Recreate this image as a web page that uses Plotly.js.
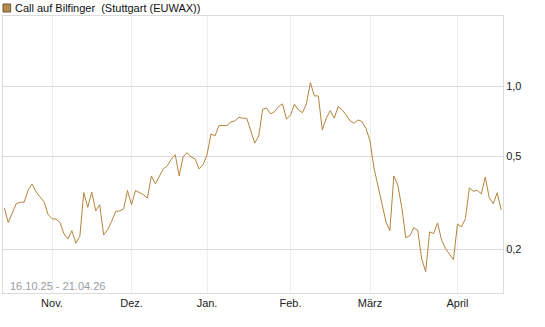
<!DOCTYPE html>
<html>
<head>
<meta charset="utf-8">
<script src="https://cdn.plot.ly/plotly-3.0.1.min.js"></script>
<style>
html,body{margin:0;padding:0;background:#fff;}
#chart{width:545px;height:327px;}
</style>
</head>
<body>
<div id="chart"></div>
<script>
// Daily closing values (trading days from 16.10.25)
const values = [
  0.300, 0.260, 0.286, 0.313, 0.318, 0.318, 0.359, 0.380, 0.352, 0.333,
  0.319, 0.282, 0.270, 0.269, 0.260, 0.233, 0.221, 0.240, 0.212, 0.227,
  0.350, 0.302, 0.351, 0.292, 0.310, 0.230, 0.242, 0.263, 0.290, 0.292,
  0.297, 0.357, 0.310, 0.357, 0.350, 0.342, 0.331, 0.412, 0.381, 0.408,
  0.442, 0.455, 0.486, 0.508, 0.412, 0.499, 0.519, 0.497, 0.488, 0.442,
  0.460, 0.508, 0.624, 0.612, 0.678, 0.678, 0.678, 0.703, 0.710, 0.735,
  0.729, 0.729, 0.650, 0.570, 0.612, 0.797, 0.805, 0.761, 0.778, 0.818,
  0.840, 0.722, 0.753, 0.837, 0.791, 0.770, 0.840, 1.036, 0.909, 0.909,
  0.650, 0.729, 0.786, 0.729, 0.818, 0.791, 0.753, 0.710, 0.694, 0.717,
  0.705, 0.659, 0.583, 0.446, 0.374, 0.316, 0.263, 0.240, 0.412, 0.376,
  0.301, 0.224, 0.228, 0.247, 0.241, 0.182, 0.160, 0.237, 0.233, 0.259,
  0.219, 0.201, 0.190, 0.180, 0.256, 0.249, 0.270, 0.366, 0.354, 0.358,
  0.345, 0.408, 0.332, 0.313, 0.349, 0.295
];
const startDate = "2025-10-16";
const holidays = ["2025-12-24","2025-12-25","2025-12-26","2025-12-31","2026-01-01","2026-04-03","2026-04-06"];
const monthLabels = ["Nov.","Dez.","Jan.","Feb.","März","April"];
const yTicks = [0.2, 0.5, 1.0];
const titleText = "Call auf Bilfinger  (Stuttgart (EUWAX))";
const rangeText = "16.10.25 - 21.04.26";

// trading-day calendar
function fmt(d){return d.toISOString().slice(0,10);}
const dates = [];
let d = new Date(startDate + "T00:00:00Z");
while (dates.length < values.length) {
  const wd = d.getUTCDay();
  const s = fmt(d);
  if (wd !== 0 && wd !== 6 && holidays.indexOf(s) < 0) dates.push(s);
  d.setUTCDate(d.getUTCDate() + 1);
}
// first trading day of each new month
const tickVals = [];
for (let i = 1; i < dates.length; i++) {
  if (dates[i].slice(5,7) !== dates[i-1].slice(5,7)) tickVals.push(dates[i]);
}

const trace = {
  x: dates, y: values, type: 'scatter', mode: 'lines',
  line: {color: '#b5843c', width: 1},
  hoverinfo: 'skip'
};

const layout = {
  width: 545, height: 327,
  margin: {l: 3, r: 42, t: 16, b: 34, pad: 0},
  paper_bgcolor: '#fff', plot_bgcolor: '#fff',
  showlegend: false,
  separators: ',.',
  font: {family: '"Liberation Sans", Arial, sans-serif', size: 11, color: '#222'},
  xaxis: {
    type: 'category',
    range: [-0.33, 125.46],
    tickvals: tickVals.slice(0, monthLabels.length),
    ticktext: monthLabels,
    showgrid: true, gridcolor: '#eeeeee', gridwidth: 1,
    showline: true, linecolor: '#dcdcdc', linewidth: 1, mirror: true,
    ticks: '', zeroline: false,
    tickfont: {size: 11, color: '#222'}
  },
  yaxis: {
    type: 'log',
    side: 'right',
    range: [Math.log10(0.1296), Math.log10(2.002)],
    tickvals: yTicks,
    ticktext: yTicks.map(v => v.toFixed(1).replace('.', ',')),
    showgrid: true, gridcolor: '#dcdcdc', gridwidth: 1,
    showline: true, linecolor: '#dcdcdc', linewidth: 1, mirror: true,
    ticks: '', zeroline: false,
    tickfont: {size: 11, color: '#222'}
  },
  shapes: [{
    type: 'rect', xref: 'paper', yref: 'paper',
    x0: 0, x1: 0.0154, y0: 1.0 + 4/277, y1: 1.0 + 12/277,
    fillcolor: '#b38a52', line: {color: '#6e5532', width: 1}
  }],
  annotations: [
    {xref: 'paper', yref: 'paper', x: 10/500, y: 1 + 8/277, xanchor: 'left', yanchor: 'middle',
     text: titleText, showarrow: false, font: {size: 11, color: '#111'}},
    {xref: 'paper', yref: 'paper', x: 5/500, y: 7/277, xanchor: 'left', yanchor: 'middle',
     text: rangeText, showarrow: false, font: {size: 11, color: '#9a9ca8'}}
  ]
};

Plotly.newPlot('chart', [trace], layout, {staticPlot: true, displayModeBar: false});
</script>
</body>
</html>
